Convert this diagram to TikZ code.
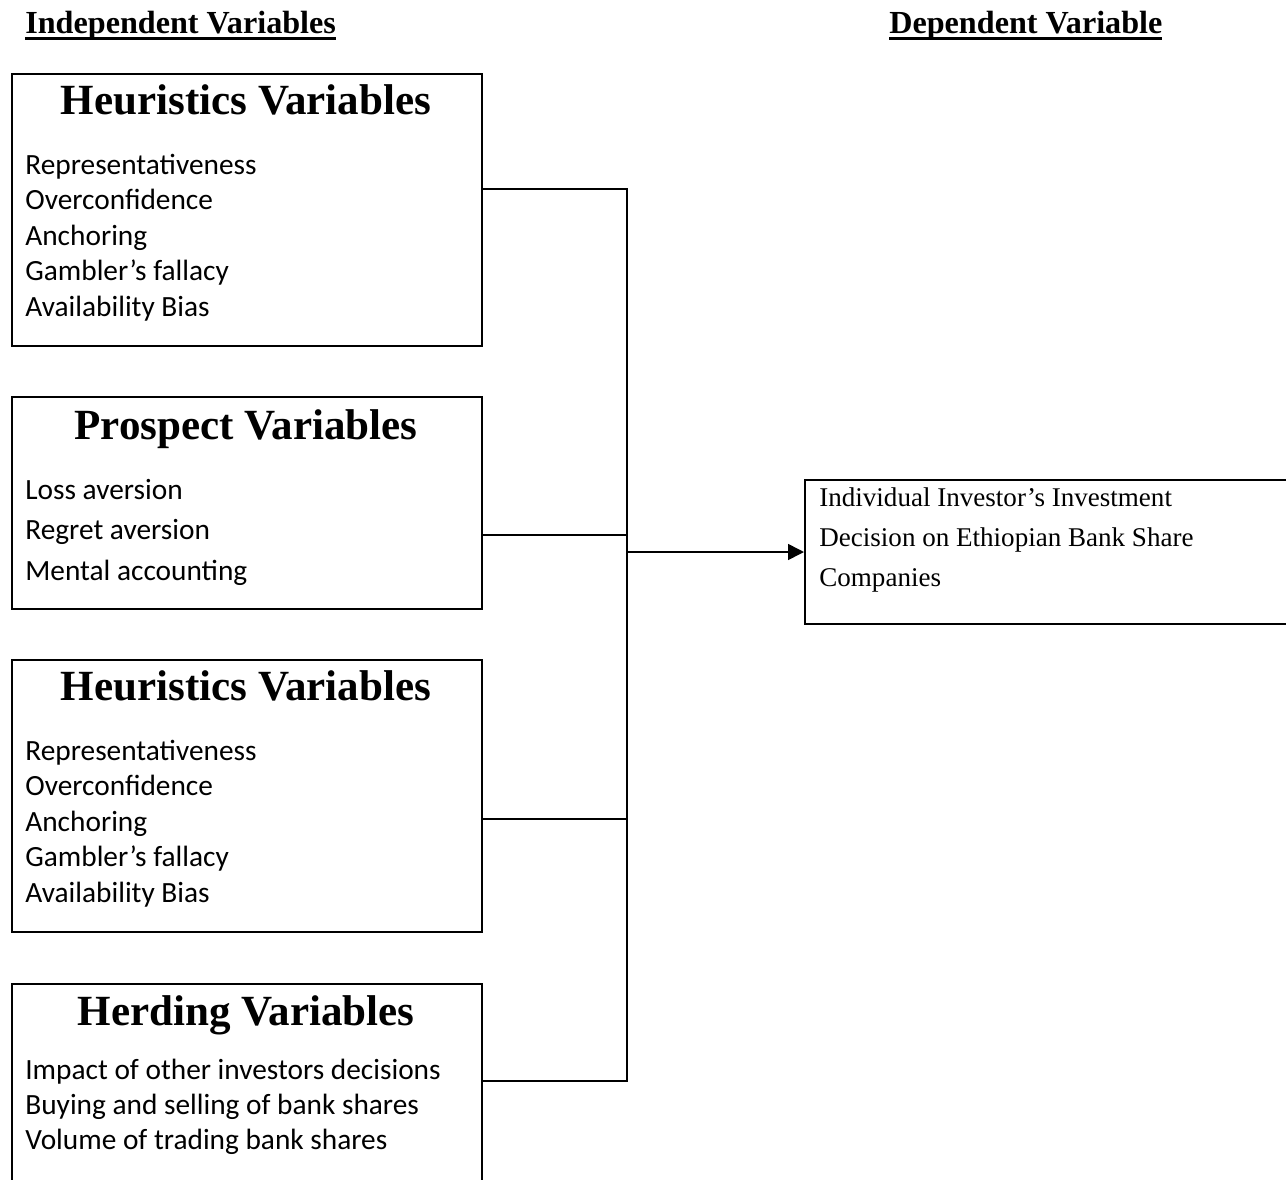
\documentclass[tikz,border=0pt]{standalone}
\usepackage{fontspec}
\setmainfont{Liberation Serif}
\newfontfamily\bodyfont{Carlito}
\usetikzlibrary{arrows.meta,positioning}

\newcommand{\hdrline}[1]{\setbox0\hbox{#1}\rlap{\rule[-4.2pt]{\wd0}{1.7pt}}\box0}

\tikzset{
  varbox/.style={draw, line width=1.1pt, inner sep=0pt, anchor=north west, minimum width=9.4cm},
  boxtitle/.style={anchor=base, inner sep=0pt, font=\fontsize{24.5}{29}\selectfont\bfseries},
  item/.style={anchor=base west, inner sep=0pt, font=\bodyfont\fontsize{16.7}{20}\selectfont},
  deptext/.style={anchor=base west, inner sep=0pt, font=\fontsize{15.4}{18}\selectfont},
  header/.style={anchor=base west, inner sep=0pt, font=\fontsize{18.3}{21}\selectfont\bfseries},
  link/.style={line width=0.9pt}
}

\begin{document}
\begin{tikzpicture}[x=0.02cm, y=-0.02cm]
    \useasboundingbox (0,0) rectangle (1286,1180);
    \clip (0,0) rectangle (1286,1180);

    % headers
    \node[header] (indep) at (25,33) {\hdrline{Independent Variables}};
    \node[header] (dephdr) at (889,33) {\hdrline{Dependent Variable}};

    % first heuristics box
    \node[varbox, minimum height=5.44cm] (h1) at (11,73) {};
    \node[boxtitle] (h1title) at (246,114) {Heuristics Variables};
    \foreach \t [count=\i] in {Representativeness, Overconfidence, Anchoring, Gambler’s fallacy, Availability Bias}
        \node[item] (h1item\i) at (25,{174+35.6*(\i-1)}) {\t};

    % prospect box
    \node[varbox, minimum height=4.24cm] (h2) at (11,396) {};
    \node[boxtitle] (h2title) at (246,439) {Prospect Variables};
    \foreach \t [count=\i] in {Loss aversion, Regret aversion, Mental accounting}
        \node[item] (h2item\i) at (25,{499+40.5*(\i-1)}) {\t};

    % second heuristics box
    \node[varbox, minimum height=5.44cm] (h3) at (11,659) {};
    \node[boxtitle] (h3title) at (246,700) {Heuristics Variables};
    \foreach \t [count=\i] in {Representativeness, Overconfidence, Anchoring, Gambler’s fallacy, Availability Bias}
        \node[item] (h3item\i) at (25,{760+35.6*(\i-1)}) {\t};

    % herding box
    \node[varbox, minimum height=4.6cm] (h4) at (11,983) {};
    \node[boxtitle] (h4title) at (246,1025) {Herding Variables};
    \foreach \t [count=\i] in {Impact of other investors decisions, Buying and selling of bank shares, Volume of trading bank shares}
        \node[item] (h4item\i) at (25,{1079+35*(\i-1)}) {\t};

    % dependent variable box
    \node[varbox, minimum width=9.8cm, minimum height=2.88cm] (dep) at (804,479) {};
    \node[deptext] (dep1) at (819,506) {Individual Investor’s Investment};
    \node[deptext] (dep2) at (819,546) {Decision on Ethiopian Bank Share};
    \node[deptext] (dep3) at (819,586) {Companies};

    % connectors
    \coordinate (bustop) at (627,189);
    \coordinate (busbot) at (627,1081);
    \coordinate (c2) at (627,535);
    \coordinate (c3) at (627,819);
    \coordinate (join) at (627,552);
    \draw[link] (h1.east |- bustop) -- (bustop) -- (busbot) -- (h4.east |- busbot);
    \draw[link] (h2.east |- c2) -- (c2);
    \draw[link] (h3.east |- c3) -- (c3);
    \draw[link, -{Triangle[length=9pt, width=9pt]}] (join) -- (dep.west |- join);
\end{tikzpicture}
\end{document}
